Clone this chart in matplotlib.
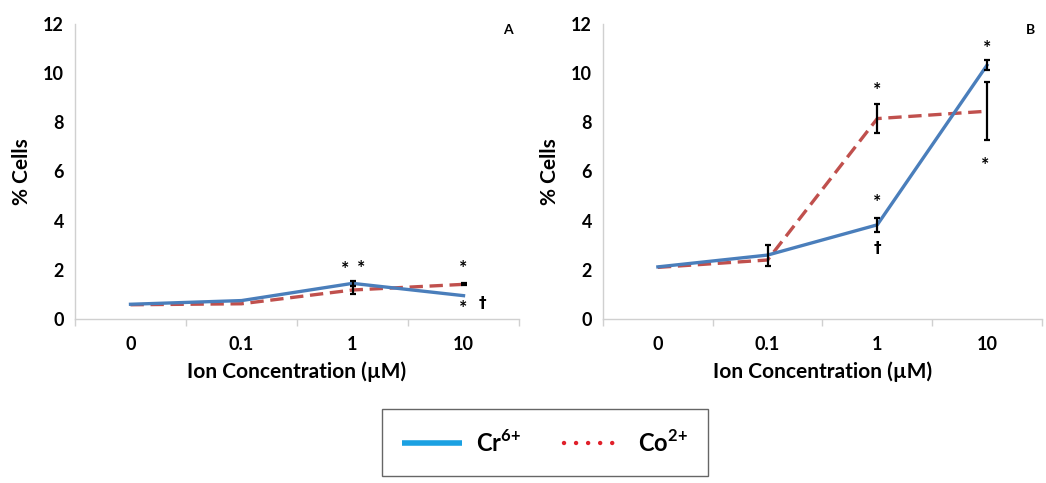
import numpy as np
import matplotlib
matplotlib.use("Agg")
import matplotlib.pyplot as plt
from matplotlib.lines import Line2D

plt.rcParams["font.family"] = ["Lato", "DejaVu Sans"]
plt.rcParams["font.weight"] = "bold"
plt.rcParams["mathtext.fontset"] = "custom"
plt.rcParams["mathtext.rm"] = "Lato:bold"
plt.rcParams["mathtext.bf"] = "Lato:bold"

conc = ["0", "0.1", "1", "10"]

# panel A
cr_a = [0.60, 0.75, 1.45, 0.95]
co_a = [0.58, 0.62, 1.18, 1.41]
cr_a_err = [0, 0, 0.10, 0]
co_a_err = [0, 0, 0.15, 0.04]

# panel B
cr_b = [2.12, 2.60, 3.83, 10.32]
co_b = [2.10, 2.40, 8.15, 8.45]
cr_b_err = [0, 0.43, 0.29, 0.20]
co_b_err = [0, 0, 0.58, 1.18]

# significance marks: (category index, y, symbol)
marks_a = [(1.93, 2.0, "*"), (2.08, 2.05, "*"), (3.0, 2.05, "*"), (3.0, 0.42, "*"), (3.17, 0.62, "†")]
marks_b = [(2.0, 9.3, "*"), (2.0, 4.75, "*"), (2.0, 2.88, "†"), (3.0, 11.02, "*"), (2.98, 6.25, "*")]

BLUE = "#4a7ebb"
RED = "#c0504d"
GRID = "#d0d0d0"

fig = plt.figure(figsize=(10.46, 4.83), dpi=100)
ax_a = fig.add_axes([0.0717, 0.3395, 0.4245, 0.611])
ax_b = fig.add_axes([0.5765, 0.3395, 0.4195, 0.611])


def draw_panel(ax, cr, co, cr_err, co_err, marks, tag):
    x = np.arange(len(conc))
    ax.plot(x, co, color=RED, lw=2.4, ls=(0, (4, 2)), zorder=2)
    ax.plot(x, cr, color=BLUE, lw=2.4, zorder=3)
    for xi, yi, e in zip(x, cr, cr_err):
        if e:
            ax.errorbar(xi, yi, yerr=e, fmt="none", ecolor="black", elinewidth=1.6, capsize=2.5, capthick=1.6, zorder=4)
    for xi, yi, e in zip(x, co, co_err):
        if e:
            ax.errorbar(xi, yi, yerr=e, fmt="none", ecolor="black", elinewidth=1.6, capsize=2.5, capthick=1.6, zorder=4)
    for mx, my, s in marks:
        ax.text(mx, my, s, ha="center", va="center", fontsize=14 if s == "*" else 11,
                fontweight="bold", family=["DejaVu Sans"] if s == "†" else None)
    ax.set_xlim(-0.5, 3.5)
    ax.set_ylim(0, 12)
    ax.set_yticks(range(0, 13, 2))
    ax.set_xticks(x)
    ax.set_xticklabels(conc)
    ax.set_xticks(np.arange(-0.5, 3.6, 1), minor=True)
    ax.tick_params(axis="x", which="major", length=0, pad=12, labelsize=13)
    ax.tick_params(axis="x", which="minor", length=5, color=GRID, width=1)
    ax.tick_params(axis="y", length=0, pad=8, labelsize=13)
    for side in ("top", "right"):
        ax.spines[side].set_visible(False)
    for side in ("left", "bottom"):
        ax.spines[side].set_color(GRID)
        ax.spines[side].set_linewidth(1)
    ax.set_xlabel("Ion Concentration (µM)", fontsize=15, fontweight="bold", labelpad=6)
    ax.set_ylabel("% Cells", fontsize=15, fontweight="bold", labelpad=8)
    ax.text(0.985, 1.0, tag, transform=ax.transAxes, ha="right", va="top", fontsize=10, fontweight="bold")


draw_panel(ax_a, cr_a, co_a, cr_a_err, co_a_err, marks_a, "A")
draw_panel(ax_b, cr_b, co_b, cr_b_err, co_b_err, marks_b, "B")

handles = [Line2D([], [], color="#1ba1e2", lw=4, solid_capstyle="butt"),
           Line2D([], [], color="#e0202a", lw=3.2, ls=(0, (0.01, 2.7)), dash_capstyle="round")]
leg = fig.legend(handles, [r"Cr$^{\mathbf{6{+}}}$", r"Co$^{\mathbf{2{+}}}$"], loc="upper left",
                 bbox_to_anchor=(0.365, 0.153), ncol=2, frameon=True, fancybox=False,
                 edgecolor="#404040", fontsize=17, handlelength=2.55, columnspacing=1.8,
                 borderpad=0.85, handletextpad=0.6, borderaxespad=0)
leg.get_frame().set_linewidth(1)
for t in leg.get_texts():
    t.set_fontweight("bold")

fig.savefig("out.png", dpi=100)
